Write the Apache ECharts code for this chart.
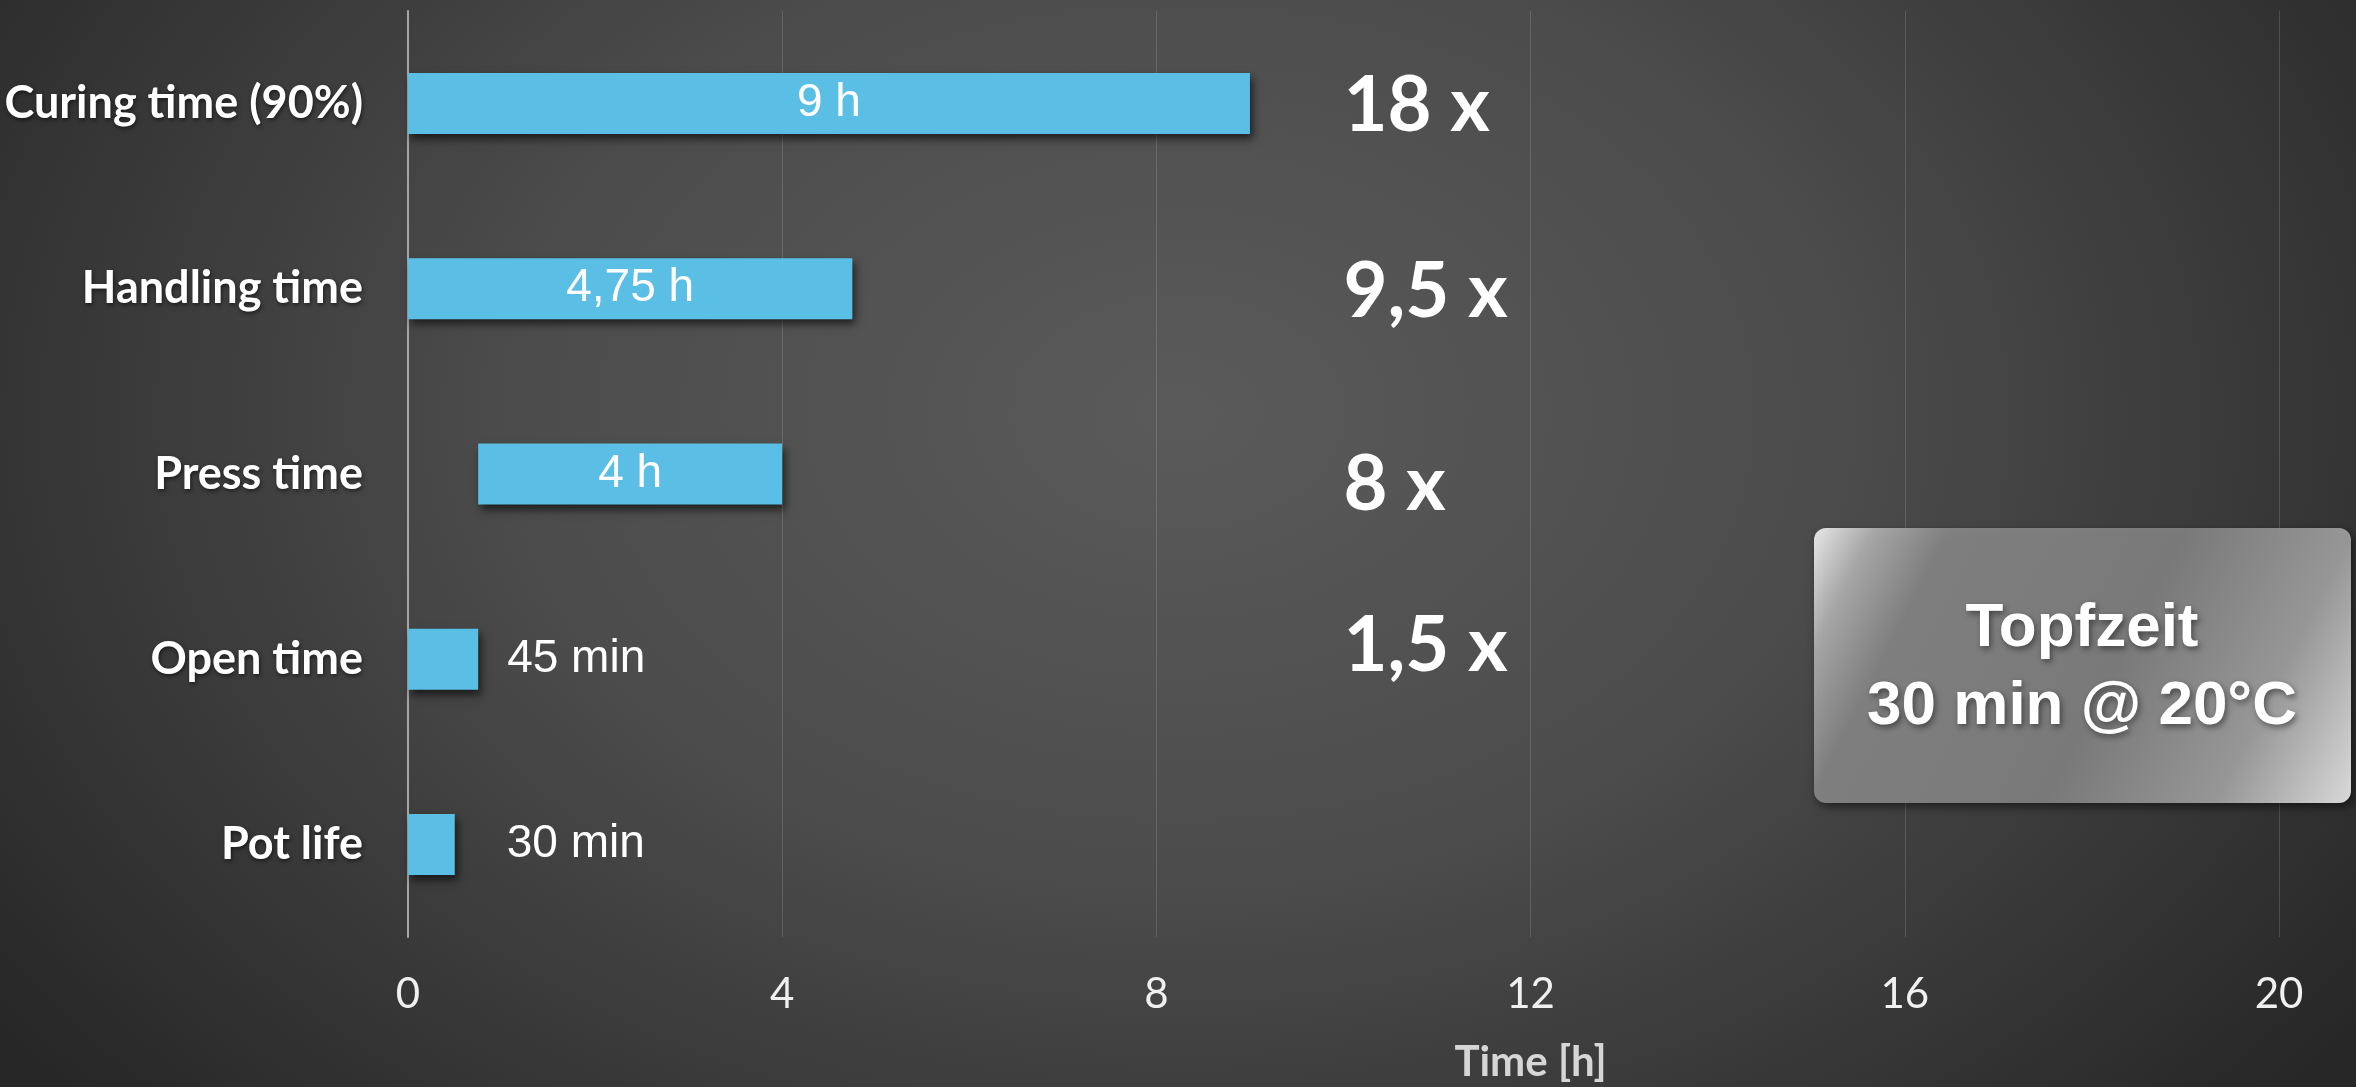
<!DOCTYPE html>
<html>
<head>
<meta charset="utf-8">
<script src="https://cdn.jsdelivr.net/npm/echarts@6/dist/echarts.min.js"></script>
<style>
  html, body { margin: 0; padding: 0; }
  body {
    width: 2356px; height: 1087px; overflow: hidden;
    background: radial-gradient(ellipse 62% 95% at 50% 38%, #5a5a5a 0%, #4c4c4c 45%, #383838 75%, #272727 100%);
  }
  #chart { width: 2356px; height: 1087px; }
</style>
</head>
<body>
<div id="chart"></div>
<script>
// ---- data ----
const categories = ['Curing time (90%)', 'Handling time', 'Press time', 'Open time', 'Pot life'];
const barStart = [0, 0, 0.75, 0, 0];          // hours
const barEnd = [9, 4.75, 4, 0.75, 0.5];       // hours
const valueLabels = ['9 h', '4,75 h', '4 h', '45 min', '30 min'];
const multipliers = ['18 x', '9,5 x', '8 x', '1,5 x', ''];
const multiplierAt = 10;                      // hours, where the factor texts start
const xTickMin = 0, xTickMax = 20, xTickStep = 4;
const axisTitle = 'Time [h]';
const noteLines = ['Topfzeit', '30 min @ 20°C'];

// ---- style ----
const barColor = '#5bbfe5';
const insideCount = 3;
const outsideGap = [0, 0, 0, 29, 52];
const multNudge = [3, 4, 11, -13, 0];

const chart = echarts.init(document.getElementById('chart'), null, { renderer: 'canvas' });

const barData = barEnd.map((e, i) => {
  const inside = i < insideCount;
  return {
    value: e - barStart[i],
    label: inside
      ? { position: 'inside' }
      : { position: 'right', distance: outsideGap[i] }
  };
});

const multData = [];
multipliers.forEach((m, i) => {
  if (m) multData.push({ value: [multiplierAt, i], label: { offset: [0, multNudge[i]] } });
});

chart.setOption({
  backgroundColor: 'transparent',
  animation: false,
  grid: { left: 408, right: 77, top: 11, bottom: 150, containLabel: false },
  xAxis: {
    type: 'value',
    min: xTickMin, max: xTickMax, interval: xTickStep,
    axisLine: { show: false },
    axisTick: { show: false },
    axisLabel: {
      margin: 36,
      color: '#f0f0f0',
      fontFamily: 'Lato', fontSize: 42
    },
    splitLine: { show: true, lineStyle: { color: 'rgba(255,255,255,0.14)', width: 1 } }
  },
  yAxis: {
    type: 'category',
    inverse: true,
    data: categories,
    axisLine: { show: true, lineStyle: { color: '#a6a6a6', width: 2 } },
    axisTick: { show: false },
    splitLine: { show: false },
    axisLabel: {
      margin: 45,
      color: '#ffffff',
      fontFamily: 'Lato', fontWeight: 'bold', fontSize: 45,
      textShadowColor: 'rgba(0,0,0,0.55)', textShadowBlur: 4, textShadowOffsetX: 1, textShadowOffsetY: 2
    }
  },
  series: [
    {
      type: 'bar', stack: 'time', silent: true,
      data: barStart,
      barWidth: 61,
      itemStyle: { color: 'rgba(0,0,0,0)' }
    },
    {
      type: 'bar', stack: 'time',
      data: barData,
      barWidth: 61,
      itemStyle: {
        color: barColor,
        shadowColor: 'rgba(0,0,0,0.6)', shadowBlur: 8, shadowOffsetX: 3, shadowOffsetY: 5
      },
      label: {
        show: true,
        formatter: p => valueLabels[p.dataIndex],
        color: '#ffffff',
        fontFamily: 'Liberation Sans', fontSize: 46
      }
    },
    {
      type: 'scatter',
      data: multData,
      symbolSize: 0,
      silent: true,
      itemStyle: { opacity: 1 },
      label: {
        show: true,
        position: 'right', distance: 0,
        formatter: p => multipliers[p.value[1]],
        color: '#ffffff',
        opacity: 1,
        fontFamily: 'Lato', fontWeight: 'bold', fontSize: 76
      }
    }
  ]
});

const titleX = chart.convertToPixel({ xAxisIndex: 0 }, 12);

chart.setOption({
  graphic: [
    {
      type: 'text',
      position: [titleX, 1062],
      style: {
        text: axisTitle,
        x: 0, y: 0,
        align: 'center', verticalAlign: 'middle',
        fill: '#d6d6d6',
        font: 'bold 42px Lato'
      }
    },
    {
      type: 'group',
      position: [1814, 528],
      children: [
        {
          type: 'rect',
          shape: { x: 0, y: 0, width: 537, height: 275, r: 12 },
          style: {
            fill: new echarts.graphic.LinearGradient(0, 0, 1, 1, [
              { offset: 0, color: '#f4f4f4' },
              { offset: 0.09, color: '#b0b0b0' },
              { offset: 0.2, color: '#868686' },
              { offset: 0.55, color: '#808080' },
              { offset: 0.8, color: '#a0a0a0' },
              { offset: 1, color: '#e8e8e8' }
            ]),
            opacity: 0.93,
            shadowColor: 'rgba(0,0,0,0.55)', shadowBlur: 10, shadowOffsetX: 3, shadowOffsetY: 4
          }
        },
        {
          type: 'text',
          style: {
            text: noteLines.join('\n'),
            x: 268, y: 140,
            align: 'center', verticalAlign: 'middle',
            lineHeight: 78,
            fill: '#ffffff',
            font: 'bold 62px "Liberation Sans"',
            textShadowColor: 'rgba(0,0,0,0.45)', textShadowBlur: 6, textShadowOffsetX: 2, textShadowOffsetY: 3
          }
        }
      ]
    }
  ]
});
</script>
</body>
</html>
